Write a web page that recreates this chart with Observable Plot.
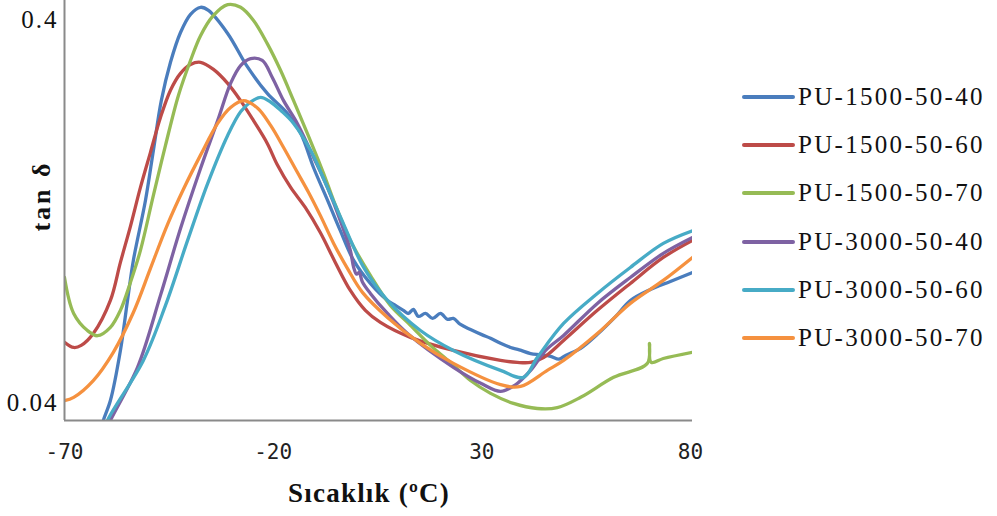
<!DOCTYPE html>
<html><head><meta charset="utf-8">
<script src="https://cdn.jsdelivr.net/npm/d3@7"></script>
<script src="https://cdn.jsdelivr.net/npm/@observablehq/plot@0.6"></script>
<style>
body{margin:0;background:#fff;}
#wrap{position:relative;width:997px;height:516px;overflow:hidden;}
#wrap svg{position:absolute;left:0;top:0;}
g[aria-label="y-axis tick label"] text{font-family:"Liberation Serif",serif;font-size:25px;letter-spacing:2px;fill:#111;}
g[aria-label="x-axis tick label"] text{font-family:"DejaVu Sans Mono",monospace;font-size:21px;fill:#222;}
.xt{position:absolute;left:288px;top:478px;width:162px;text-align:center;font:bold 27px "Liberation Serif",serif;letter-spacing:1.2px;color:#111;white-space:nowrap;}
.yt{position:absolute;left:42px;top:196px;transform:translate(-50%,-50%) rotate(-90deg);font:bold 26px "Liberation Serif",serif;letter-spacing:3px;color:#111;white-space:nowrap;}
.leg{position:absolute;left:742px;font:25px "Liberation Serif",serif;letter-spacing:2.3px;color:#111;white-space:nowrap;display:flex;align-items:center;}
.leg span.sw{display:inline-block;width:53px;height:4px;margin-right:3px;border-radius:2px;}
</style></head>
<body><div id="wrap"></div>
<script>
// Series names and colours
const seriesNames = ["PU-1500-50-40","PU-1500-50-60","PU-1500-50-70","PU-3000-50-40","PU-3000-50-60","PU-3000-50-70"];
const seriesColors = ["#4a7dbd","#bd4b48","#96bb55","#7e62a3","#47abc6","#f5913f"];
const xTicks = [-70, -20, 30, 80];
const yTicks = [0.04, 0.4];

// [temperature °C, tan δ]
const pu1500_40 = [[-61.1,0.0344],[-60.7,0.0361],[-59.0,0.0407],[-56.6,0.0550],[-54.9,0.0743],[-53.5,0.0945],[-50.6,0.1355],[-48.7,0.183],[-46.8,0.247],[-44.6,0.311],[-42.2,0.372],[-39.8,0.415],[-37.4,0.433],[-35.5,0.425],[-30.9,0.370],[-26.1,0.302],[-21.4,0.258],[-16.6,0.229],[-13.4,0.203],[-10.3,0.165],[-7.0,0.136],[-3.9,0.113],[-0.7,0.0945],[3.3,0.0823],[7.4,0.0743],[9.3,0.0721],[11.2,0.0700],[12.4,0.0687],[13.6,0.0704],[14.8,0.0675],[16.5,0.0687],[18.2,0.0667],[20.1,0.0687],[21.8,0.0663],[23.2,0.0667],[24.9,0.0643],[27.3,0.0624],[30.0,0.0605],[32.1,0.0592],[34.5,0.0574],[36.9,0.0560],[39.0,0.0552],[41.7,0.0540],[44.0,0.0536],[46.5,0.0531],[48.5,0.0522],[50.1,0.0534],[53.7,0.0557],[57.7,0.0606],[62.1,0.0675],[65.6,0.0743],[70.4,0.0794],[75.2,0.0833],[80.5,0.0879]];
const pu1500_60 = [[-70,0.0578],[-67.8,0.0560],[-66,0.0567],[-63.1,0.0609],[-59.0,0.0743],[-56.6,0.0934],[-54.2,0.116],[-51.8,0.1466],[-49.4,0.181],[-47.0,0.2232],[-44.6,0.263],[-42.2,0.291],[-39.8,0.307],[-37.4,0.311],[-34.3,0.298],[-30.9,0.274],[-27.8,0.247],[-24.7,0.219],[-21.4,0.191],[-19.0,0.168],[-15.8,0.1466],[-12.3,0.130],[-8.7,0.1118],[-5.1,0.0934],[-1.5,0.0789],[2.1,0.0700],[5.7,0.0651],[12.9,0.0595],[23.2,0.0550],[34.5,0.0518],[38.5,0.0512],[41.7,0.0512],[44.8,0.0527],[49.6,0.0584],[57.7,0.0700],[65.6,0.0823],[73.5,0.0962],[80.5,0.1066]];
const pu1500_70 = [[-70,0.0853],[-67.8,0.0687],[-64.5,0.0620],[-62.1,0.0601],[-59.0,0.0632],[-56.6,0.0700],[-54.2,0.0828],[-51.8,0.1004],[-48.7,0.1397],[-45.8,0.1887],[-42.7,0.2549],[-39.8,0.3145],[-37.4,0.365],[-34.5,0.410],[-30.9,0.440],[-27.8,0.433],[-24.7,0.400],[-21.4,0.348],[-18.2,0.296],[-15.1,0.247],[-11.8,0.203],[-7.9,0.1594],[-5.5,0.1355],[-1.5,0.1066],[3.3,0.0864],[8.1,0.0721],[12.9,0.0640],[17.7,0.0567],[22.5,0.0512],[27.3,0.0459],[32.1,0.0425],[37.6,0.0400],[43.3,0.0388],[48.1,0.0390],[53.7,0.0415],[61.6,0.0468],[69.7,0.0509],[70.2,0.0574],[70.6,0.0512],[73.5,0.0524],[80.5,0.0544]];
const pu3000_40 = [[-59.7,0.0344],[-59.0,0.0361],[-52.5,0.0497],[-47.0,0.0766],[-42.2,0.1145],[-37.4,0.1643],[-33.3,0.219],[-30.2,0.274],[-27.8,0.305],[-25.4,0.318],[-22.6,0.3145],[-20.2,0.284],[-17.5,0.247],[-14.2,0.2154],[-10.3,0.1755],[-7.0,0.1466],[-3.9,0.120],[-1.5,0.1004],[-0.7,0.0906],[0.0,0.0870],[0.6,0.0880],[1.4,0.0830],[3.3,0.0775],[7.4,0.0687],[12.2,0.0609],[23.2,0.0497],[30.0,0.0450],[34.5,0.0430],[37.9,0.0446],[41.7,0.0488],[45.3,0.0550],[49.6,0.0602],[57.7,0.0730],[65.6,0.0853],[73.5,0.0986],[80.5,0.1085]];
const pu3000_60 = [[-60.2,0.0344],[-59.7,0.0361],[-51.1,0.0518],[-45.8,0.0721],[-40.5,0.1066],[-35.7,0.150],[-30.9,0.2004],[-27.8,0.231],[-25.4,0.245],[-23.0,0.252],[-20.6,0.245],[-18.2,0.233],[-15.1,0.2154],[-11.0,0.183],[-7.0,0.1466],[-3.9,0.123],[1.7,0.0906],[7.4,0.0743],[15.3,0.0620],[23.2,0.0550],[34.5,0.0488],[40.0,0.0468],[43.3,0.0527],[49.6,0.0647],[57.7,0.0775],[65.6,0.0906],[73.5,0.1047],[80.5,0.113]];
const pu3000_70 = [[-70,0.0407],[-67.8,0.0415],[-63.1,0.0459],[-58.3,0.0544],[-53.5,0.0691],[-49.4,0.0901],[-45.3,0.1174],[-41.5,0.145],[-37.4,0.178],[-33.3,0.2154],[-30.2,0.237],[-27.1,0.247],[-23.7,0.236],[-20.6,0.2128],[-17.5,0.1864],[-14.4,0.162],[-11.5,0.1422],[-8.7,0.1239],[-5.5,0.1047],[-2.2,0.0901],[1.4,0.0780],[7.4,0.0671],[15.3,0.0574],[23.2,0.0509],[34.5,0.0448],[39.3,0.0443],[45.7,0.0488],[49.6,0.0518],[57.7,0.0609],[65.6,0.0730],[73.5,0.0838],[80.5,0.0962]];

const allSeries = [pu1500_40, pu1500_60, pu1500_70, pu3000_40, pu3000_60, pu3000_70];
const rows = allSeries.flatMap((s, i) => s.map(([t, v]) => ({t, v, name: seriesNames[i]})));

const xDomain = [-70, 80.5];
const yDomain = [0.0361, 0.451];

const chart = Plot.plot({
  width: 997, height: 516,
  marginLeft: 64, marginRight: 305, marginTop: 0, marginBottom: 96,
  x: {domain: xDomain},
  y: {type: "log", domain: yDomain},
  color: {domain: seriesNames, range: seriesColors},
  marks: [
    Plot.lineY(rows, {x: "t", y: "v", z: "name", stroke: "name", strokeWidth: 3.3, curve: "catmull-rom", clip: true, strokeLinejoin: "round"}),
    Plot.ruleX([xDomain[0]], {stroke: "#8a8a8a", strokeWidth: 2}),
    Plot.ruleY([yDomain[0]], {stroke: "#8a8a8a", strokeWidth: 2}),
    Plot.axisY({ticks: yTicks, tickSize: 0, tickPadding: 6, tickFormat: d => String(d), label: null}),
    Plot.axisX({ticks: xTicks, tickSize: 0, tickPadding: 24, tickFormat: d => String(d), label: null})
  ]
});

const wrap = document.getElementById("wrap");
wrap.appendChild(chart);

const xt = document.createElement("div");
xt.className = "xt"; xt.textContent = "Sıcaklık (ºC)";
wrap.appendChild(xt);
const yt = document.createElement("div");
yt.className = "yt"; yt.textContent = "tan δ";
wrap.appendChild(yt);

const legendY = [97, 145, 193, 242, 290, 338];
seriesNames.forEach((n, i) => {
  const d = document.createElement("div");
  d.className = "leg";
  d.style.top = (legendY[i] - 15) + "px";
  d.style.height = "30px";
  const sw = document.createElement("span");
  sw.className = "sw"; sw.style.background = seriesColors[i];
  d.appendChild(sw);
  d.appendChild(document.createTextNode(n));
  wrap.appendChild(d);
});
</script>
</body></html>
